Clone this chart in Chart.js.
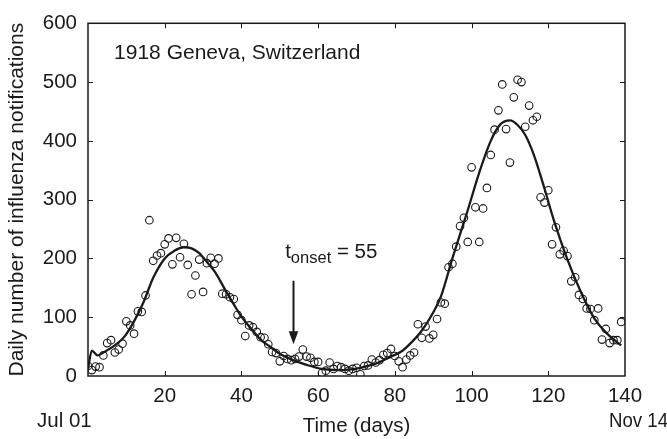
<!DOCTYPE html>
<html>
<head>
<meta charset="utf-8">
<script src="https://cdn.jsdelivr.net/npm/chart.js@4.4.1/dist/chart.umd.min.js"></script>
<style>
  html, body { margin: 0; padding: 0; background: #fff; }
</style>
</head>
<body>
<canvas id="chart" width="667" height="439"></canvas>
<script>
// daily notifications (day 0 = Jul 01)
const days = [];
for (let d = 0; d <= 139; d++) days.push(d);
const notifications = [
    17, 10, 16, 15, 35, 56, 61, 40, 45, 55,
    93, 86, 72, 110, 109, 137, 265, 196, 205, 209,
    224, 234, 190, 235, 202, 225, 189, 139, 171, 198,
    143, 192, 201, 191, 200, 140, 139, 134, 131, 104,
    95, 68, 86, 83, 75, 66, 65, 54, 41, 39,
    25, 34, 29, 27, 29, 33, 45, 33, 31, 24,
    24, 5, 9, 23, 12, 17, 15, 12, 9, 12,
    14, 3, 17, 18, 28, 23, 27, 36, 39, 46,
    34, 25, 15, 28, 35, 40, 88, 65, 84, 64,
    70, 97, 125, 123, 185, 191, 220, 255, 269, 228,
    355, 287, 228, 285, 320, 376, 419, 452, 496, 420,
    363, 474, 504, 500, 424, 460, 435, 441, 304, 295,
    316, 224, 253, 207, 213, 204, 161, 168, 138, 131,
    115, 114, 95, 115, 62, 80, 56, 61, 61, 92
];

// model fit, sampled off the drawn curve
const fitDays = [0, 1, 2.5, 4, 7, 9.5, 12, 14.5, 17, 20, 22.5, 25, 27, 29, 31, 33, 36, 38, 40, 43,
    45, 47, 50, 53.5, 57, 61, 65, 68, 71, 75, 79, 82, 84, 87, 90, 92, 95, 99, 102, 105,
    107.5, 110, 112, 114, 116.3, 119, 121.5, 125, 128.5, 132, 135.5, 139];
const fitValues = [12, 43, 35, 40, 52, 67, 93, 126, 167, 200, 213, 219, 217, 209, 194, 178, 144, 122, 101, 77,
    62, 52, 38, 27, 19, 12, 10, 11, 14, 21, 33, 43, 55, 77, 108, 135, 200, 282, 346, 400,
    428, 435, 427, 410, 375, 319, 264, 198, 143, 98, 71, 52];

const xTicks = [20, 40, 60, 80, 100, 120, 140];
const yTicks = [0, 100, 200, 300, 400, 500, 600];

const FONT = "'Liberation Sans', Arial, sans-serif";
const INK = '#1a1a1a';

const framePlugin = {
    id: 'frame',
    beforeDatasetsDraw(chart) {
        const { ctx, chartArea: a, scales } = chart;
        ctx.save();
        ctx.strokeStyle = INK;
        ctx.lineWidth = 1.5;
        ctx.strokeRect(a.left, a.top, a.right - a.left, a.bottom - a.top);
        // inward ticks on all four sides
        ctx.lineWidth = 1;
        ctx.beginPath();
        yTicks.slice(1, -1).forEach(v => {
            const y = Math.round(scales.y.getPixelForValue(v)) + 0.5;
            ctx.moveTo(a.left, y); ctx.lineTo(a.left + 5, y);
            ctx.moveTo(a.right, y); ctx.lineTo(a.right - 5, y);
        });
        xTicks.slice(0, -1).forEach(v => {
            const x = Math.round(scales.x.getPixelForValue(v)) + 0.5;
            ctx.moveTo(x, a.bottom); ctx.lineTo(x, a.bottom - 5);
            ctx.moveTo(x, a.top); ctx.lineTo(x, a.top + 5);
        });
        ctx.stroke();
        ctx.restore();
    },
    afterDraw(chart) {
        const { ctx, scales } = chart;
        const xs = scales.x, ys = scales.y;
        ctx.save();
        ctx.fillStyle = INK;
        ctx.font = `21px ${FONT}`;
        ctx.textBaseline = 'alphabetic';

        // place name
        ctx.textAlign = 'left';
        ctx.fillText('1918 Geneva, Switzerland', xs.getPixelForValue(6.8), ys.getPixelForValue(540));

        // date labels under the axis ends
        ctx.font = `20.5px ${FONT}`;
        ctx.textBaseline = 'middle';
        ctx.textAlign = 'left';
        ctx.fillText('Jul 01', xs.getPixelForValue(0) - 51, 421);
        ctx.fillText('Nov 14', xs.getPixelForValue(140) - 16, 421, 59);

        // t_onset label
        ctx.textBaseline = 'alphabetic';
        let tx = xs.getPixelForValue(51.4);
        const base = ys.getPixelForValue(200);
        ctx.fillText('t', tx, base);
        tx += ctx.measureText('t').width;
        ctx.font = `16.5px ${FONT}`;
        ctx.fillText('onset', tx, base + 5);
        tx += ctx.measureText('onset').width;
        ctx.font = `20.5px ${FONT}`;
        ctx.fillText(' = 55', tx, base);

        // arrow
        const ax = Math.round(xs.getPixelForValue(53.5)) + 0.5;
        const y0 = ys.getPixelForValue(162);
        const y1 = ys.getPixelForValue(54);
        ctx.strokeStyle = INK;
        ctx.lineWidth = 2;
        ctx.beginPath();
        ctx.moveTo(ax, y0);
        ctx.lineTo(ax, y1 - 8);
        ctx.stroke();
        ctx.beginPath();
        ctx.moveTo(ax, y1);
        ctx.lineTo(ax - 4.8, y1 - 13);
        ctx.lineTo(ax + 4.8, y1 - 13);
        ctx.closePath();
        ctx.fill();
        ctx.restore();
    }
};

const ctx = document.getElementById('chart');

new Chart(ctx, {
    type: 'scatter',
    data: {
        datasets: [
            {
                label: 'Fit',
                type: 'line',
                data: fitDays.map((d, i) => ({ x: d, y: fitValues[i] })),
                borderColor: INK,
                borderWidth: 2.3,
                pointRadius: 0,
                fill: false,
                cubicInterpolationMode: 'monotone',
                order: 1
            },
            {
                label: 'Notifications',
                data: days.map((d, i) => ({ x: d, y: notifications[i] })),
                borderColor: INK,
                backgroundColor: 'rgba(0,0,0,0)',
                borderWidth: 1.1,
                pointRadius: 3.8,
                order: 2
            }
        ]
    },
    options: {
        responsive: false,
        animation: false,
        devicePixelRatio: 1,
        layout: { padding: { top: 14, right: 42, left: 0, bottom: 0 } },
        plugins: {
            legend: { display: false },
            tooltip: { enabled: false }
        },
        scales: {
            x: {
                type: 'linear',
                min: 0,
                max: 140,
                afterFit: (s) => { s.height = 63; },
                afterBuildTicks: (s) => { s.ticks = [0].concat(xTicks).map(v => ({ value: v })); },
                grid: { display: false, drawTicks: false },
                border: { display: false },
                ticks: {
                    padding: 8,
                    color: INK,
                    font: { family: FONT, size: 20.5 },
                    maxRotation: 0,
                    callback: (v) => (v === 0 ? '' : String(v))
                },
                title: {
                    display: true,
                    text: 'Time (days)',
                    color: INK,
                    font: { family: FONT, size: 20.5 },
                    padding: { top: 0, bottom: 0 }
                }
            },
            y: {
                min: 0,
                max: 600,
                afterFit: (s) => { s.width = 88; },
                afterBuildTicks: (s) => { s.ticks = yTicks.map(v => ({ value: v })); },
                grid: { display: false, drawTicks: false },
                border: { display: false },
                ticks: {
                    padding: 11,
                    color: INK,
                    font: { family: FONT, size: 20.5 }
                },
                title: {
                    display: true,
                    text: 'Daily number of influenza notifications',
                    color: INK,
                    font: { family: FONT, size: 21 },
                    padding: { top: 5, bottom: 0 }
                }
            }
        }
    },
    plugins: [framePlugin]
});
</script>
</body>
</html>
